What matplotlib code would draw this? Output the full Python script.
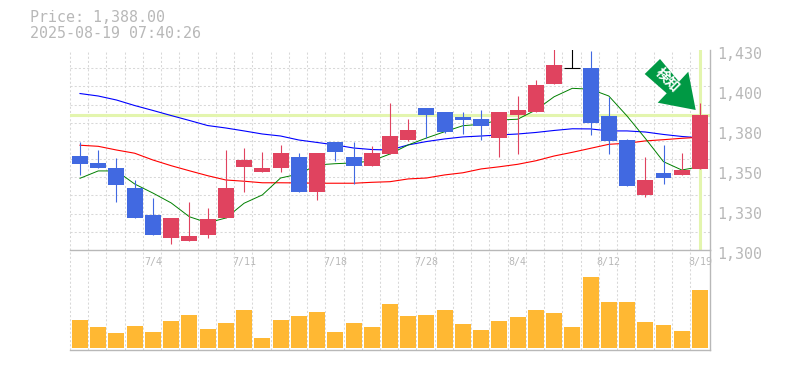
import matplotlib
matplotlib.use("Agg")
import matplotlib.pyplot as plt
import matplotlib.transforms as mtrans
from matplotlib.patches import Polygon

# daily candles
opens = [1361, 1356.5, 1353, 1340, 1323, 1308, 1306, 1310, 1321, 1354, 1351, 1353, 1360.5, 1338,
         1370, 1360.5, 1354.5, 1362.5, 1371.5, 1392, 1390, 1386.5, 1385, 1373, 1388, 1390, 1408,
         1418, 1418, 1387, 1371.5, 1336, 1350, 1349, 1352.5]
closes = [1356, 1353, 1342, 1321, 1310, 1321, 1309, 1320, 1340, 1358.5, 1353, 1363, 1338, 1363,
          1364, 1354.5, 1363, 1374, 1378, 1388, 1377, 1384.5, 1380.5, 1390, 1391, 1407, 1420,
          1418, 1382.5, 1371, 1341.5, 1345.5, 1347, 1352, 1388]
highs = [1370, 1365, 1360, 1345.5, 1334, 1321, 1331, 1327, 1365, 1366, 1364, 1368, 1363, 1363,
         1370, 1370, 1367.5, 1395.5, 1385, 1392, 1390, 1390, 1391, 1390, 1400, 1410.5, 1432,
         1432, 1429.5, 1399.5, 1372, 1360.5, 1368, 1363, 1395.5]
lows = [1349, 1353, 1331, 1321, 1310, 1304, 1306, 1308, 1321, 1338, 1351, 1351, 1338, 1332.5,
        1358, 1343, 1354.5, 1362.5, 1371, 1373, 1376, 1375.5, 1371.5, 1360.5, 1362.5, 1390, 1408,
        1418, 1375, 1362.5, 1341.5, 1334.5, 1343, 1349, 1352.5]

# moving averages
ma_short = [1346.6, 1351.4, 1351.4, 1342.9, 1337, 1330.6, 1321.6, 1317.7, 1320.8, 1330.4, 1335.8,
            1346.8, 1349.4, 1355.3, 1356.1, 1356.6, 1357.9, 1362.4, 1368.3, 1372.8, 1376.9, 1380.8,
            1381.7, 1384.5, 1385, 1391, 1399.6, 1405.1, 1404.5, 1400.1, 1387.1, 1372.6, 1357.4,
            1352, 1354.1]
ma_mid = [1368.1, 1367.4, 1365, 1362.9, 1358.5, 1354.8, 1351.5, 1348.3, 1345.5, 1344.7, 1343.7,
          1343.7, 1343.6, 1343.4, 1343.4, 1343.4, 1344, 1344.4, 1346.2, 1346.8, 1348.8, 1350.2,
          1352.7, 1354.1, 1355.7, 1358, 1361.1, 1363.5, 1366.1, 1368.7, 1369.4, 1370.9, 1371.7,
          1372.6, 1373.3]
ma_long = [1401.7, 1400.1, 1397.5, 1393.9, 1390.7, 1387.4, 1384.2, 1380.9, 1379.3, 1377.4, 1375.4,
           1374.1, 1371.5, 1369.9, 1368.3, 1366.3, 1365.3, 1365, 1368.3, 1370.5, 1372.2, 1373.5,
           1374.1, 1374.8, 1375.4, 1376.4, 1377.7, 1378.8, 1378.7, 1377.4, 1377.4, 1376.7, 1375.1,
           1373.8, 1372.9]

volumes = [28, 21, 15, 22, 16, 27, 33, 19, 25, 38, 10, 28, 32, 36, 16, 25, 21, 44,
           32, 33, 38, 24, 18, 27, 31, 38, 35, 21, 71, 46, 46, 26, 23, 17, 58]

date_labels = ["7/4", "7/11", "7/18", "7/28", "8/4", "8/12", "8/19"]
date_index = [4, 9, 14, 19, 24, 29, 34]
price_ticks = [1300, 1326, 1352, 1378, 1404, 1430]
price_labels = ["1,300", "1,330", "1,350", "1,380", "1,400", "1,430"]
last_price = 1388

W, H = 785, 370
GRAY = "#b8b8b8"
RED = "#e0435f"
BLUE = "#4169e1"
LIME = "#e3f5ae"
GRID = "#d8d8d8"
GRID_DASH = (0, (2, 2))
FONT = "DejaVu Sans Mono"
X_LEFT, X_RIGHT = -0.548, 34.55

fig = plt.figure(figsize=(W / 100, H / 100), dpi=100)
ax = fig.add_axes([70 / W, 1 - 250 / H, 640 / W, 200 / H])
ax_vol = fig.add_axes([70 / W, 1 - 350 / H, 640 / W, 100 / H])

x = list(range(len(closes)))

for a in (ax, ax_vol):
    a.set_xlim(X_LEFT, X_RIGHT)
    a.set_xticks([i + X_LEFT for i in x], minor=True)
    a.tick_params(which="both", length=0)
    a.set_axisbelow(True)
    a.spines["top"].set_visible(False)
    a.spines["left"].set_visible(False)
    a.spines["right"].set_color(GRAY)
    a.spines["bottom"].set_color(GRAY)
    a.spines["right"].set_linewidth(1)
    a.spines["bottom"].set_linewidth(1)

# price panel
ax.set_ylim(1300, 1430)
ax.set_yticks([1300 + i * 130 / 11 for i in range(1, 12)], minor=True)
ax.grid(which="minor", axis="both", color=GRID, lw=0.75, ls=GRID_DASH)
ax.yaxis.tick_right()
ax.set_yticks(price_ticks)
ax.set_yticklabels(price_labels, fontfamily=FONT, fontsize=10.8, color=GRAY)
ax.tick_params(axis="y", pad=5)
shift = mtrans.ScaledTranslation(0, -3 / 100, fig.dpi_scale_trans)
for label in ax.get_yticklabels():
    label.set_transform(label.get_transform() + shift)
ax.set_xticks(date_index)
ax.set_xticklabels(date_labels, fontfamily=FONT, fontsize=7.2, color=GRAY)
ax.tick_params(axis="x", pad=5)
for t in ax.xaxis.get_minor_ticks() + ax.yaxis.get_minor_ticks():
    t.gridline.set_clip_on(False)

ax.axhline(last_price, color=LIME, lw=2.2, zorder=1.5)
ax.axvline(x[-1], color=LIME, lw=2.2, zorder=1.5)

ax.plot(x, ma_long, color="#0000ff", lw=0.8, zorder=2)
ax.plot(x, ma_mid, color="#ff0000", lw=0.8, zorder=2)
ax.plot(x, ma_short, color="#008000", lw=0.7, zorder=2)

for i in x:
    if closes[i] > opens[i]:
        c = RED
    elif closes[i] < opens[i]:
        c = BLUE
    else:
        c = "black"
    ax.vlines(i, lows[i], highs[i], color=c, lw=0.8, zorder=3)
    if c == "black":
        ax.hlines(opens[i], i - 0.44, i + 0.44, color=c, lw=0.8, zorder=3)
    else:
        ax.bar(i, abs(closes[i] - opens[i]), bottom=min(opens[i], closes[i]), width=0.877,
               color=c, lw=0, zorder=4)

# volume panel
ax_vol.set_ylim(-2, 98)
ax_vol.set_yticks([])
ax_vol.set_xticks([])
ax_vol.grid(which="minor", axis="x", color=GRID, lw=0.75, ls=GRID_DASH)
for t in ax_vol.xaxis.get_minor_ticks():
    t.gridline.set_clip_on(False)
ax_vol.bar(x, volumes, width=0.877, color="#ffb833", lw=0, zorder=3)
ax_vol.patch.set_alpha(0)

# header
fig.text(30 / W, 1 - 18 / H, "Price: 1,388.00", fontfamily=FONT, fontsize=10.8, color=GRAY, va="center")
fig.text(30 / W, 1 - 33 / H, "2025-08-19 07:40:26", fontfamily=FONT, fontsize=10.8, color=GRAY, va="center")

# signal arrow
arrow_px = [(660, 59), (644.7, 74), (666.7, 93.3), (657.7, 102.7), (695.7, 110), (688.3, 71.7), (679, 81.7)]
fig.add_artist(Polygon([(px / W, 1 - py / H) for px, py in arrow_px], closed=True,
                       transform=fig.transFigure, facecolor="#009944", edgecolor="none", zorder=6))
fig.text(667 / W, 1 - 80.5 / H, "検知", family=["Noto Sans CJK JP", "DejaVu Sans"], fontsize=10,
         fontweight="bold", color="white", rotation=-45, ha="center", va="center", zorder=7)

fig.savefig("out.png", dpi=100)
